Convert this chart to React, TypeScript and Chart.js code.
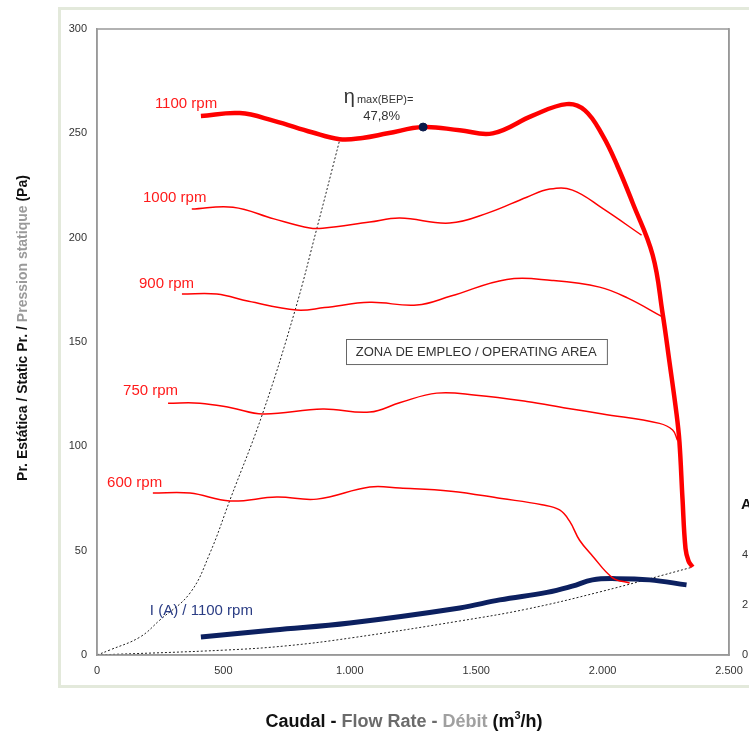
import React, { useEffect, useRef } from 'react';
import { Chart, registerables } from 'chart.js';

Chart.register(...registerables);

const FONT = '"Liberation Sans", Arial, Helvetica, sans-serif';

// ---- data (flow m3/h, pressure Pa, current A) ----
const flow1100 = [411, 565, 700, 850, 960, 1050, 1150, 1290, 1435, 1565, 1723, 1858, 1930, 2000, 2060, 2119, 2198, 2237, 2265, 2292, 2304, 2316, 2328, 2340, 2356];
const pres1100 = [258.3, 259.7, 256, 250.5, 247.2, 247.8, 250, 253, 251.5, 250, 258.5, 264, 261, 249, 234, 216.6, 191.7, 164, 140, 116, 102, 75, 51, 45, 42.2];

const flow1000 = [375, 538, 700, 842, 893, 1079, 1198, 1395, 1550, 1700, 1791, 1881, 2000, 2154];
const pres1000 = [213.7, 214.6, 209, 204.6, 204.5, 207.5, 209.4, 207, 212, 219.4, 223.3, 222.8, 214, 201.2];

const flow900 = [336, 474, 600, 790, 900, 1079, 1265, 1400, 1621, 1800, 1988, 2100, 2237];
const pres900 = [173, 173, 169.5, 165.3, 166.5, 169, 167.7, 172, 180, 179.5, 176.3, 171, 162];

const flow750 = [281, 407, 530, 656, 893, 1079, 1200, 1344, 1500, 1700, 1858, 2000, 2225, 2277, 2296];
const pres750 = [120.7, 120.7, 118.5, 115.5, 117.9, 116.4, 121, 125.5, 124.5, 121.5, 118.3, 115.5, 111, 107.8, 103];

const flow600 = [221, 368, 526, 711, 870, 1079, 1198, 1400, 1600, 1760, 1830, 1870, 1909, 1960, 2040, 2107];
const pres600 = [77.6, 77.6, 73.8, 75.7, 74.7, 80.5, 80, 78.5, 75, 72, 69.5, 64, 55, 47.5, 37, 34.5];

const flowCurrent = [411, 700, 1000, 1435, 1593, 1780, 1880, 1960, 2055, 2186, 2332];
const current1100 = [0.72, 1.0, 1.28, 1.88, 2.2, 2.5, 2.75, 3.0, 3.05, 3.0, 2.8];

const flowBepLine = [0, 51, 170, 249, 368, 447, 526, 656, 783, 870, 960];
const presBepLine = [0, 2.4, 8.6, 16.8, 29.7, 48.9, 74.3, 116, 165, 204.6, 246.8];

const flowSystem = [0, 514, 750, 1000, 1435, 1700, 1988, 2352];
const presSystem = [0, 2.4, 4.4, 8.1, 16.3, 22, 30.2, 42];

const flowBep = [1290];
const presBep = [253];

const xTicks = [0, 500, 1000, 1500, 2000, 2500];
const rightTickLabels = [0, 2, 4];

const curveLabels = ['1100 rpm', '1000 rpm', '900 rpm', '750 rpm', '600 rpm'];
const currentLabel = 'I (A) / 1100 rpm';
const bepLabel = ['\u03b7', 'max(BEP)=', '47,8%'];
const areaLabel = 'ZONA DE EMPLEO / OPERATING AREA';

// label anchors in data units (flow, pressure)
const curveLabelAnchors = [[229, 264], [182, 219], [166, 178], [103, 126.5], [40, 82.4]];
const currentLabelAnchor = [209, 21.1];

const pts = (xs: number[], ys: number[]) => xs.map((x, i) => ({ x, y: ys[i] }));

const fmt = (v: number) => {
  const s = String(Math.round(v));
  return s.length > 3 ? s.slice(0, s.length - 3) + '.' + s.slice(-3) : s;
};

const drawParts = (ctx: CanvasRenderingContext2D, parts: [string, string][], cx: number, cy: number) => {
  let total = 0;
  parts.forEach(([t]) => { total += ctx.measureText(t).width; });
  let x = cx - total / 2;
  ctx.textAlign = 'left';
  ctx.textBaseline = 'middle';
  parts.forEach(([t, c]) => {
    ctx.fillStyle = c;
    ctx.fillText(t, x, cy);
    x += ctx.measureText(t).width;
  });
};

const overlayPlugin = {
  id: 'overlay',
  beforeDraw(chart: any) {
    const ctx = chart.ctx as CanvasRenderingContext2D;
    ctx.save();
    ctx.strokeStyle = '#e3e9db';
    ctx.lineWidth = 3;
    ctx.strokeRect(59.5, 8.5, 760, 678);
    ctx.restore();
  },
  afterDraw(chart: any) {
    const ctx = chart.ctx as CanvasRenderingContext2D;
    const { chartArea, scales } = chart;
    const sx = scales.x;
    const sy = scales.y;
    const px = (v: number) => sx.getPixelForValue(v);
    const py = (v: number) => sy.getPixelForValue(v);
    ctx.save();
    // plot frame
    ctx.strokeStyle = '#999';
    ctx.lineWidth = 1.5;
    ctx.strokeRect(chartArea.left, chartArea.top, chartArea.right - chartArea.left, chartArea.bottom - chartArea.top);

    // rpm labels
    ctx.font = `15px ${FONT}`;
    ctx.textAlign = 'left';
    ctx.textBaseline = 'middle';
    ctx.fillStyle = '#ff1a1a';
    curveLabels.forEach((t, i) => {
      const [a, b] = curveLabelAnchors[i];
      ctx.fillText(t, px(a), py(b));
    });
    ctx.fillStyle = '#2b3d84';
    ctx.fillText(currentLabel, px(currentLabelAnchor[0]), py(currentLabelAnchor[1]));

    // BEP annotation
    ctx.fillStyle = '#333';
    ctx.font = `20px ${FONT}`;
    ctx.fillText(bepLabel[0], px(976), py(267));
    ctx.font = `11px ${FONT}`;
    ctx.fillText(bepLabel[1], px(1028), py(266));
    ctx.font = `13px ${FONT}`;
    ctx.textAlign = 'center';
    ctx.fillText(bepLabel[2], px(1126), py(258));

    // operating area box
    const bx0 = px(984), bx1 = px(2016), by0 = py(151.4), by1 = py(139.4);
    ctx.fillStyle = '#fff';
    ctx.fillRect(bx0, by0, bx1 - bx0, by1 - by0);
    ctx.strokeStyle = '#666';
    ctx.lineWidth = 1;
    ctx.strokeRect(Math.round(bx0) + 0.5, Math.round(by0) + 0.5, bx1 - bx0, by1 - by0);
    ctx.fillStyle = '#333';
    ctx.font = `13px ${FONT}`;
    ctx.textAlign = 'center';
    ctx.fillText(areaLabel, (bx0 + bx1) / 2, (by0 + by1) / 2 + 0.5);

    // right axis unit
    const sr = scales.y1;
    ctx.font = `bold 15px ${FONT}`;
    ctx.textAlign = 'left';
    ctx.fillStyle = '#111';
    ctx.fillText('A', 741, sr.getPixelForValue(6));

    // y title
    ctx.save();
    ctx.translate(23, 328);
    ctx.rotate(-Math.PI / 2);
    ctx.font = `bold 14px ${FONT}`;
    drawParts(ctx, [['Pr. Estática / Static Pr. / ', '#111'], ['Pression statique', '#9a9a9a'], [' (Pa)', '#111']], 0, 0);
    ctx.restore();

    // x title
    ctx.font = `bold 18px ${FONT}`;
    const parts: [string, string][] = [['Caudal - ', '#111'], ['Flow Rate - ', '#6b6b6b'], ['Débit', '#a0a0a0'], [' (m', '#111']];
    let total = 0;
    parts.forEach(([t]) => { total += ctx.measureText(t).width; });
    const tail = '/h)';
    const tailW = ctx.measureText(tail).width;
    ctx.font = `bold 11px ${FONT}`;
    const supW = ctx.measureText('3').width;
    total += tailW + supW;
    let x = 404 - total / 2;
    const yT = 722;
    ctx.textAlign = 'left';
    ctx.textBaseline = 'middle';
    ctx.font = `bold 18px ${FONT}`;
    parts.forEach(([t, c]) => {
      ctx.fillStyle = c;
      ctx.fillText(t, x, yT);
      x += ctx.measureText(t).width;
    });
    ctx.font = `bold 11px ${FONT}`;
    ctx.fillStyle = '#111';
    ctx.fillText('3', x, yT - 6);
    x += supW;
    ctx.font = `bold 18px ${FONT}`;
    ctx.fillText(tail, x, yT);
    ctx.restore();
  },
};

export default function App() {
  const ref = useRef<HTMLCanvasElement | null>(null);
  useEffect(() => {
    if (!ref.current) return;
    const redLine = (data: any, w: number) => ({
      data,
      borderColor: '#ff0000',
      borderWidth: w,
      pointRadius: 0,
      tension: 0.4,
      yAxisID: 'y',
    });
    const chart = new Chart(ref.current, {
      type: 'line',
      data: {
        datasets: [
          { data: pts(flowBep, presBep), showLine: false, pointRadius: 4, pointBackgroundColor: '#0b1a4a', pointBorderColor: '#0b1a4a', borderColor: '#0b1a4a', yAxisID: 'y' },
          redLine(pts(flow1100, pres1100), 4.5),
          redLine(pts(flow1000, pres1000), 1.5),
          redLine(pts(flow900, pres900), 1.5),
          redLine(pts(flow750, pres750), 1.5),
          redLine(pts(flow600, pres600), 1.5),
          {
            data: pts(flowCurrent, current1100),
            borderColor: '#0c2060',
            borderWidth: 5,
            pointRadius: 0,
            tension: 0.4,
            yAxisID: 'y1',
          },
          {
            data: pts(flowBepLine, presBepLine),
            borderColor: '#222',
            borderWidth: 1,
            borderDash: [2, 2],
            pointRadius: 0,
            tension: 0.4,
            yAxisID: 'y',
          },
          {
            data: pts(flowSystem, presSystem),
            borderColor: '#222',
            borderWidth: 1,
            borderDash: [2, 2],
            pointRadius: 0,
            tension: 0.4,
            yAxisID: 'y',
          },
        ],
      },
      options: {
        animation: false,
        responsive: false,
        devicePixelRatio: 1,
        layout: { padding: { top: 29, left: 0, right: 0, bottom: 0 } },
        plugins: { legend: { display: false }, tooltip: { enabled: false }, title: { display: false } },
        scales: {
          x: {
            type: 'linear',
            min: 0,
            max: 2500,
            afterBuildTicks: (s: any) => { s.ticks = xTicks.map((v) => ({ value: v })); },
            afterFit: (s: any) => { s.height = 81; },
            grid: { display: false, drawTicks: true, tickLength: 4, tickColor: '#999' },
            border: { display: true, color: '#999', width: 1.5 },
            ticks: { color: '#333', font: { family: FONT, size: 11 }, padding: 5, maxRotation: 0, callback: (v: any) => fmt(Number(v)) },
          },
          y: {
            type: 'linear',
            position: 'left',
            min: 0,
            max: 300,
            afterFit: (s: any) => { s.width = 97; },
            grid: { display: false, drawTicks: true, tickLength: 4, tickColor: '#999' },
            border: { display: true, color: '#999', width: 1.5 },
            ticks: { stepSize: 50, color: '#333', font: { family: FONT, size: 11 }, padding: 6 },
          },
          y1: {
            type: 'linear',
            position: 'right',
            min: 0,
            max: 25,
            afterFit: (s: any) => { s.width = 20; },
            grid: { display: false, drawTicks: true, tickLength: 4, tickColor: '#999' },
            border: { display: true, color: '#999', width: 1.5 },
            ticks: {
              stepSize: 2,
              color: '#333',
              font: { family: FONT, size: 11 },
              padding: 9,
              callback: (v: any) => (rightTickLabels.includes(Number(v)) ? String(v) : ''),
            },
          },
        },
      },
      plugins: [overlayPlugin],
    });
    return () => chart.destroy();
  }, []);
  return (
    <div style={{ position: 'absolute', left: 0, top: 0, width: 749, height: 736, background: '#fff' }}>
      <canvas ref={ref} width={749} height={736} style={{ display: 'block', width: 749, height: 736 }} />
    </div>
  );
}
